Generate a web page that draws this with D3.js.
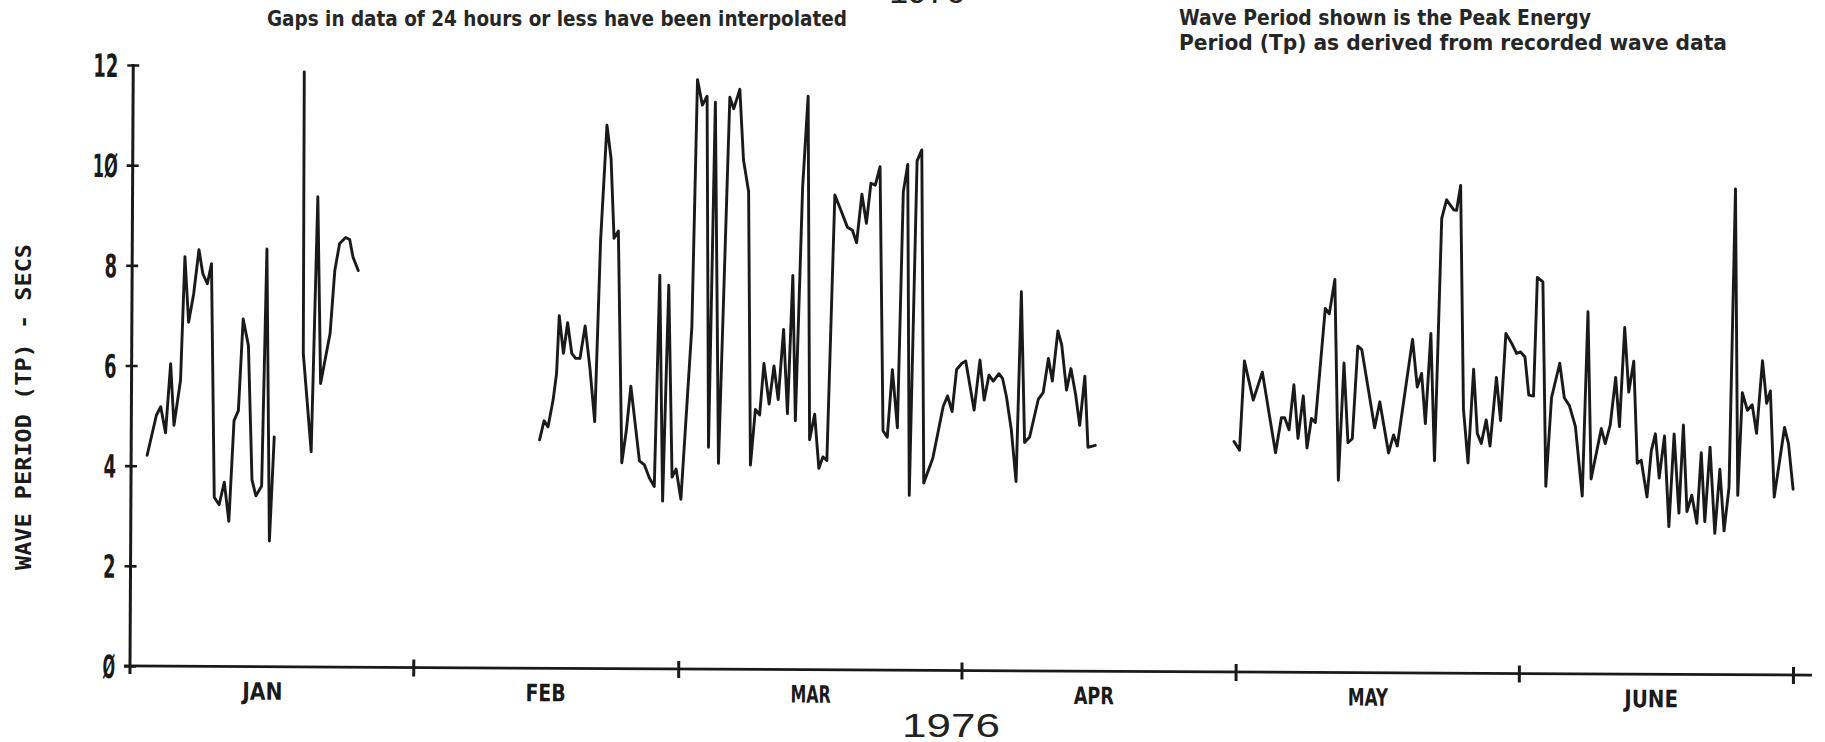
<!DOCTYPE html>
<html>
<head>
<meta charset="utf-8">
<script src="https://cdn.jsdelivr.net/npm/d3@7"></script>
<style>
  body { margin: 0; background: #fff; }
  svg { display: block; }
</style>
</head>
<body>
<div class="waveChart"></div>
<script>
// Parameters
const width = 1825;
const height = 742;
const margin = { top: 65, right: 32, bottom: 76, left: 130 };
const tilt = 0.31;   // the scanned page is slightly rotated

// Data: day offsets from 1 Jan 1976 and peak period Tp (secs)
const monthNames = ['JAN', 'FEB', 'MAR', 'APR', 'MAY', 'JUNE'];
const yTicks = [0, 2, 4, 6, 8, 10, 12];

const janDays = [1.75, 2.74, 3.21, 3.75, 4.27, 4.67, 5.36, 5.77, 6.21, 6.75, 7.30, 7.74, 8.24, 8.68,
  9.12, 9.66, 10.21, 10.73, 11.24, 11.71, 12.18, 12.77, 13.24, 13.68, 14.30, 14.74, 15.18, 15.65];
const janTp = [4.21, 5.01, 5.18, 4.66, 6.04, 4.81, 5.71, 8.18, 6.87, 7.44, 8.32, 7.84, 7.64, 8.04,
  3.38, 3.23, 3.68, 2.90, 4.91, 5.11, 6.94, 6.41, 3.73, 3.41, 3.61, 8.34, 2.51, 4.59];

const lateJanDays = [18.72, 18.78, 19.70, 20.28, 20.69, 21.70, 22.18, 22.69, 23.35, 23.79, 24.16, 24.74];
const lateJanTp = [11.88, 6.26, 4.30, 9.39, 5.66, 6.66, 7.92, 8.46, 8.58, 8.54, 8.19, 7.92];

const febAprDays = [44.69, 45.17, 45.61, 46.15, 46.51, 46.77, 47.25, 47.69, 48.16, 48.59, 49.06, 49.61,
  50.16, 50.71, 51.25, 51.88, 52.35, 52.72, 53.19, 53.70, 54.18, 54.65, 55.63, 56.18, 56.73, 57.27,
  57.75, 58.19, 58.74, 59.21, 59.65, 60.19, 61.29, 61.76, 62.31, 62.82, 63.18, 63.73, 64.28, 65.31,
  65.74, 66.40, 66.84, 67.42, 67.78, 68.29, 68.76, 69.20, 69.79, 70.30, 70.78, 71.33, 71.80, 72.31,
  72.67, 73.33, 73.88, 74.24, 74.78, 75.27, 75.70, 76.14, 76.86, 77.52, 78.25, 78.80, 79.27, 79.82,
  80.33, 80.80, 81.28, 81.79, 82.27, 82.74, 83.26, 83.84, 84.35, 84.82, 85.18, 85.84, 86.35, 86.76,
  87.74, 88.84, 89.31, 89.82, 90.29, 90.84, 91.28, 92.23, 92.84, 93.32, 93.83, 94.31, 94.92, 95.33,
  95.76, 96.31, 96.86, 97.33, 97.77, 98.32, 99.24, 99.78, 100.33, 100.77, 101.35, 101.78, 102.33,
  102.80, 103.32, 103.79, 104.33, 104.71, 105.51];
const febAprTp = [4.56, 4.94, 4.82, 5.36, 5.89, 7.04, 6.29, 6.90, 6.29, 6.19, 6.19, 6.84,
  5.99, 4.93, 8.55, 10.85, 10.18, 8.59, 8.74, 4.11, 4.76, 5.64, 4.15, 4.07, 3.81, 3.64,
  7.86, 3.35, 7.66, 3.83, 3.99, 3.39, 6.83, 11.77, 11.26, 11.44, 4.43, 11.32, 4.11, 11.42,
  11.19, 11.58, 10.17, 9.54, 4.08, 5.19, 5.08, 6.11, 5.30, 6.06, 5.39, 6.79, 5.11, 7.87,
  4.97, 9.64, 11.45, 4.59, 5.10, 4.02, 4.25, 4.18, 9.48, 9.18, 8.84, 8.78, 8.53, 9.50,
  8.92, 9.72, 9.68, 10.05, 4.78, 4.65, 6.00, 4.84, 9.55, 10.10, 3.49, 10.17, 10.39, 3.74,
  4.24, 5.27, 5.48, 5.17, 6.01, 6.13, 6.18, 5.20, 6.20, 5.40, 5.90, 5.78, 5.93, 5.83,
  5.47, 4.81, 3.78, 7.57, 4.56, 4.67, 5.42, 5.56, 6.24, 5.79, 6.79, 6.51, 5.61,
  6.04, 5.53, 4.91, 5.89, 4.47, 4.51];

const mayJunDays = [120.69, 121.30, 121.78, 122.77, 123.75, 125.24, 125.86, 126.22, 126.70, 127.21,
  127.69, 128.24, 128.68, 129.15, 129.58, 130.60, 131.04, 131.63, 132.13, 132.68, 133.16, 133.63,
  134.18, 134.62, 136.07, 136.62, 137.61, 138.15, 138.56, 140.17, 140.71, 141.18, 141.62, 142.17,
  142.64, 143.29, 143.81, 144.60, 144.91, 145.34, 145.78, 146.31, 146.87, 147.31, 147.75, 148.28,
  148.71, 149.37, 149.85, 150.38, 151.03, 151.56, 152.00, 152.48, 152.92, 153.44, 153.79, 154.40,
  154.84, 155.41, 156.29, 156.81, 157.38, 158.04, 158.83, 159.35, 159.79, 160.88, 161.32, 161.85,
  162.42, 162.86, 163.38, 163.86, 164.39, 164.83, 165.26, 165.92, 166.36, 166.80, 167.24, 167.80,
  168.33, 168.85, 169.42, 169.86, 170.30, 170.82, 171.39, 171.83, 172.26, 172.79, 173.36, 173.88,
  174.37, 174.89, 175.42, 175.85, 176.29, 176.86, 177.38, 177.87, 178.48, 178.96, 179.36, 179.84,
  180.93, 181.37, 181.90];
const mayJunTp = [4.60, 4.43, 6.21, 5.43, 5.99, 4.38, 5.08, 5.08, 4.84, 5.74,
  4.67, 5.52, 4.48, 5.07, 4.99, 7.27, 7.16, 7.85, 3.84, 6.18, 4.59, 4.67,
  6.52, 6.45, 4.89, 5.41, 4.39, 4.75, 4.53, 6.66, 5.71, 5.98, 4.98, 6.78,
  4.24, 9.08, 9.45, 9.25, 9.24, 9.74, 5.28, 4.20, 6.07, 4.79, 4.59, 5.06,
  4.54, 5.91, 5.05, 6.79, 6.59, 6.39, 6.42, 6.32, 5.56, 5.54, 7.91, 7.82,
  3.74, 5.51, 6.20, 5.51, 5.35, 4.94, 3.55, 7.23, 3.89, 4.90, 4.60, 4.97,
  5.92, 4.94, 6.92, 5.63, 6.25, 4.21, 4.27, 3.54, 4.46, 4.80, 3.92, 4.76,
  2.95, 4.80, 3.22, 4.98, 3.25, 3.58, 3.02, 4.43, 3.05, 4.54, 2.82, 4.10,
  2.87, 3.74, 9.70, 3.58, 5.63, 5.28, 5.39, 4.82, 6.27, 5.42, 5.67, 3.55,
  4.94, 4.62, 3.71];

const segments = [
  [janDays, janTp],
  [lateJanDays, lateJanTp],
  [febAprDays, febAprTp],
  [mayJunDays, mayJunTp]
];

const start = Date.UTC(1976, 0, 1);
const toDate = d => new Date(start + d * 864e5);

function drawGraph() {
  const svg = d3.select('.waveChart')
    .append('svg')
    .attr('width', width)
    .attr('height', height)
    .attr('id', 'waveGraph');

  svg.append('rect')
    .attr('width', width)
    .attr('height', height)
    .attr('fill', '#fff');

  const ink = '#1a1a1a';
  const plotFont = '"DejaVu Sans Condensed", "Liberation Sans Narrow", sans-serif';
  const textFont = '"Liberation Sans Narrow", "DejaVu Sans Condensed", "Arial Narrow", sans-serif';

  // Scales
  const x = d3.scaleUtc()
    .domain([new Date(start), new Date(Date.UTC(1976, 6, 1))])
    .range([margin.left, width - margin.right]);

  const y = d3.scaleLinear()
    .domain([0, 12])
    .range([height - margin.bottom, margin.top]);

  const plot = svg.append('g')
    .attr('transform', `rotate(${tilt}, ${margin.left}, ${y(0)})`);

  // Vertical axis
  const yAxis = plot.append('g')
    .attr('transform', `translate(${margin.left}, 0)`)
    .call(d3.axisLeft(y)
      .tickValues(yTicks)
      .tickSizeOuter(0)
      .tickSizeInner(6)
      .tickPadding(9)
      .tickFormat(d => String(d).replace(/0/g, 'Ø')));

  yAxis.select('.domain').remove();
  yAxis.selectAll('.tick line')
    .attr('x1', 6)
    .attr('x2', -6)
    .attr('stroke', ink)
    .attr('stroke-width', 2.6);
  yAxis.selectAll('.tick text')
    .attr('fill', ink)
    .style('font-family', plotFont)
    .style('font-weight', 'bold')
    .style('font-size', '32px')
    .attr('dy', '0.36em')
    .attr('textLength', d => 12.5 * String(d).length)
    .attr('lengthAdjust', 'spacingAndGlyphs');

  plot.append('line')
    .attr('x1', margin.left).attr('x2', margin.left)
    .attr('y1', y(12) - 1).attr('y2', y(0) + 8)
    .attr('stroke', ink)
    .attr('stroke-width', 3);

  // Horizontal axis
  const xAxis = plot.append('g')
    .attr('transform', `translate(0, ${y(0)})`)
    .call(d3.axisBottom(x)
      .ticks(d3.utcMonth.every(1))
      .tickSizeOuter(0)
      .tickFormat(''));

  xAxis.select('.domain').remove();
  xAxis.selectAll('.tick')
    .filter(d => +d === start)
    .remove();
  xAxis.selectAll('.tick line')
    .attr('y1', -8)
    .attr('y2', 9)
    .attr('stroke', ink)
    .attr('stroke-width', 3);

  plot.append('line')
    .attr('x1', margin.left - 6).attr('x2', x.range()[1] + 19)
    .attr('y1', y(0)).attr('y2', y(0))
    .attr('stroke', ink)
    .attr('stroke-width', 2.8);

  // Month labels, set at the middle of each month
  plot.append('g')
    .selectAll('text')
    .data(monthNames)
    .join('text')
    .attr('x', (d, i) => x(new Date(Date.UTC(1976, i, 15, 12))))
    .attr('y', y(0) + 33)
    .attr('text-anchor', 'middle')
    .attr('fill', ink)
    .style('font-family', plotFont)
    .style('font-weight', 'bold')
    .style('font-size', '24px')
    .attr('textLength', d => 13.4 * d.length)
    .attr('lengthAdjust', 'spacingAndGlyphs')
    .text(d => d);

  // Wave period trace
  const line = d3.line()
    .x(d => x(toDate(d[0])))
    .y(d => y(d[1]));

  plot.append('g')
    .selectAll('path')
    .data(segments.map(([days, tp]) => days.map((d, i) => [d, tp[i]])))
    .join('path')
    .attr('d', line)
    .attr('fill', 'none')
    .attr('stroke', ink)
    .attr('stroke-width', 2.9)
    .attr('stroke-linejoin', 'round')
    .attr('stroke-linecap', 'round');

  // Axis title
  svg.append('text')
    .attr('transform', `translate(31, 407) rotate(-90)`)
    .attr('text-anchor', 'middle')
    .attr('fill', ink)
    .style('font-family', '"DejaVu Sans Mono", monospace')
    .style('font-weight', 'bold')
    .style('font-size', '21px')
    .attr('textLength', 326)
    .attr('lengthAdjust', 'spacingAndGlyphs')
    .text('WAVE PERIOD (TP) - SECS');

  // Notes
  const notes = svg.append('g')
    .attr('fill', '#262626')
    .style('font-family', textFont)
    .style('font-weight', 'bold')
    .style('font-size', '21px');

  notes.append('text')
    .attr('x', 267).attr('y', 26)
    .attr('textLength', 580)
    .attr('lengthAdjust', 'spacingAndGlyphs')
    .text('Gaps in data of 24 hours or less have been interpolated');

  notes.append('text')
    .attr('x', 1179).attr('y', 25)
    .attr('textLength', 412)
    .attr('lengthAdjust', 'spacingAndGlyphs')
    .text('Wave Period shown is the Peak Energy');

  notes.append('text')
    .attr('x', 1179).attr('y', 50)
    .attr('textLength', 548)
    .attr('lengthAdjust', 'spacingAndGlyphs')
    .text('Period (Tp) as derived from recorded wave data');

  // Year, once cut at the top edge and once at the bottom
  const year = svg.append('g')
    .attr('fill', '#222')
    .attr('text-anchor', 'middle')
    .style('font-family', '"Liberation Sans", Arial, sans-serif')
    .style('font-size', '34px');

  year.append('text')
    .attr('x', 927).attr('y', 3)
    .text('1976');

  year.append('text')
    .attr('x', 951).attr('y', 737)
    .attr('textLength', 98)
    .attr('lengthAdjust', 'spacingAndGlyphs')
    .text('1976');
}

drawGraph();
</script>
</body>
</html>
